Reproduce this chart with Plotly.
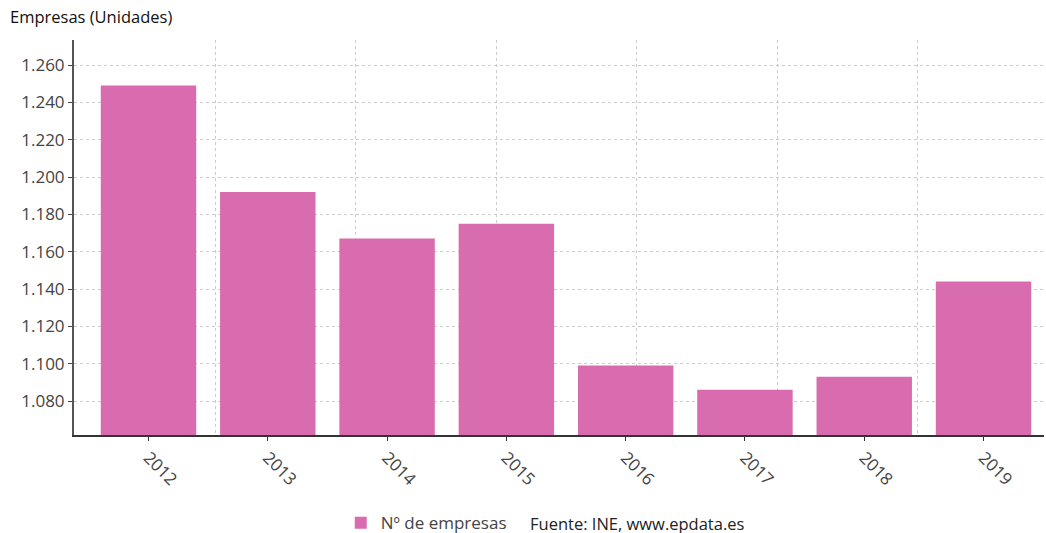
import plotly.graph_objects as go

years = ["2012", "2013", "2014", "2015", "2016", "2017", "2018", "2019"]
empresas = [1249, 1192, 1167, 1175, 1099, 1086, 1093, 1144]
y_ticks = [1080, 1100, 1120, 1140, 1160, 1180, 1200, 1220, 1240, 1260]

bar_color = "#D86CAE"
font_family = "Open Sans, sans-serif"

fig = go.Figure()
fig.add_trace(go.Bar(
    x=years, y=empresas, name="Nº de empresas",
    marker=dict(color=bar_color, line=dict(width=0)),
    width=0.8, showlegend=True, hoverinfo="x+y",
))
# invisible trace to drive the secondary (grid-only) x axis
fig.add_trace(go.Scatter(x=[0], y=[1100], xaxis="x2", mode="markers",
                         marker=dict(opacity=0), showlegend=False, hoverinfo="skip"))

fig.update_layout(
    width=1046, height=533,
    margin=dict(l=74, r=2, t=40, b=98, autoexpand=False),
    paper_bgcolor="white", plot_bgcolor="white",
    separators=",.",
    font=dict(family=font_family, color="#444"),
    bargap=0.2,
    xaxis=dict(
        type="category", range=[-0.6245, 7.507], automargin=False,
        showgrid=False, showline=True, linecolor="#333", linewidth=2,
        ticks="outside", ticklen=4, tickcolor="#333", tickwidth=1,
        tickangle=45, tickfont=dict(size=17, color="#444"),
        zeroline=False,
    ),
    xaxis2=dict(
        overlaying="x", range=[-0.0071, 6.897], dtick=1, tick0=0,
        showgrid=True, gridcolor="#cccccc", griddash="dot", gridwidth=1,
        showticklabels=False, ticks="", showline=False, zeroline=False,
        layer="below traces", automargin=False,
    ),
    yaxis=dict(
        range=[1061.8, 1273.4], tickvals=y_ticks, tickformat=",d", automargin=False,
        showgrid=True, gridcolor="#cccccc", griddash="dot", gridwidth=1,
        showline=True, linecolor="#555", linewidth=2,
        ticks="outside", ticklen=4, tickcolor="#444",
        tickfont=dict(size=17, color="#444"), zeroline=False,
    ),
    legend=dict(orientation="h", x=0.275, xanchor="left", y=-0.223, yanchor="middle",
                font=dict(size=17, color="#444"), bgcolor="rgba(0,0,0,0)",
                itemwidth=30, traceorder="normal"),
    annotations=[
        dict(text="Empresas (Unidades)", xref="paper", yref="paper",
             x=-0.068, y=1.025, xanchor="left", yanchor="bottom", showarrow=False,
             font=dict(size=16.5, color="#111", family=font_family)),
        dict(text="Fuente: INE, www.epdata.es", xref="paper", yref="paper",
             x=(528 - 74) / 970, y=-0.223, xanchor="left", yanchor="middle", showarrow=False,
             font=dict(size=16.5, color="#222", family=font_family)),
    ],
)

fig.write_html("out.html", config={"displayModeBar": False},
               post_script="document.body.style.margin='0';document.body.style.padding='0';")
